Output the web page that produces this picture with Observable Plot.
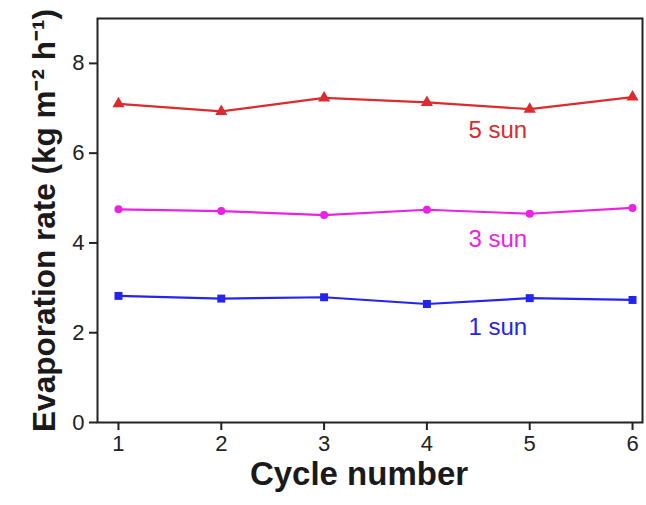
<!DOCTYPE html>
<html>
<head>
<meta charset="utf-8">
<script src="https://cdn.jsdelivr.net/npm/d3@7"></script>
<script src="https://cdn.jsdelivr.net/npm/@observablehq/plot@0.6"></script>
<style>
  html, body { margin: 0; padding: 0; background: #fff; }
  #chart { width: 646px; height: 505px; }
</style>
</head>
<body>
<div id="chart"></div>
<script>
const cycles = [1, 2, 3, 4, 5, 6];
const sun5 = [7.10, 6.93, 7.23, 7.13, 6.98, 7.25];
const sun3 = [4.75, 4.71, 4.62, 4.74, 4.65, 4.78];
const sun1 = [2.82, 2.76, 2.79, 2.64, 2.77, 2.73];
const seriesNames = ["5 sun", "3 sun", "1 sun"];
const seriesColors = ["#dc2a2e", "#e922e6", "#2424ee"];
const seriesSymbols = ["triangle", "circle", "square"];
const labelX = [4.69, 4.69, 4.69];
const labelY = [6.50, 4.07, 2.13];
const yTicks = [0, 2, 4, 6, 8];
const xTitle = "Cycle number";
const yTitle = "Evaporation rate (kg m\u207B\u00B2 h\u207B\u00B9)";

const seriesValues = [sun5, sun3, sun1];
const rows = [];
seriesNames.forEach((name, i) => {
  cycles.forEach((c, j) => rows.push({series: name, cycle: c, value: seriesValues[i][j]}));
});
const labels = seriesNames.map((name, i) => ({series: name, x: labelX[i], y: labelY[i]}));

const font = "'Liberation Sans', Arial, Helvetica, sans-serif";

const marks = [
  Plot.frame({stroke: "#222", strokeWidth: 2}),
  Plot.axisY({ticks: yTicks, tickFormat: d => String(d), tickSize: 8, tickPadding: 5, strokeWidth: 2, stroke: "#222", fill: "#222", fontSize: 22, label: null}),
  Plot.axisX({ticks: cycles, tickFormat: d => String(d), tickSize: 8, tickPadding: 5, strokeWidth: 2, stroke: "#222", fill: "#222", fontSize: 22, label: null})
];
seriesNames.forEach((name, i) => {
  const d = rows.filter(r => r.series === name);
  marks.push(Plot.line(d, {x: "cycle", y: "value", stroke: seriesColors[i], strokeWidth: 2.2}));
  marks.push(Plot.dot(d, {x: "cycle", y: "value", fill: seriesColors[i], symbol: seriesSymbols[i], r: seriesSymbols[i] === "circle" ? 4 : 4.5}));
  marks.push(Plot.text([labels[i]], {x: "x", y: "y", text: "series", fill: seriesColors[i], fontSize: 24}));
});
marks.push(Plot.text([yTitle], {frameAnchor: "left", textAnchor: "middle", dx: -53, rotate: -90, fontSize: 31.5, fontWeight: "bold", fill: "#1a1a1a"}));
marks.push(Plot.text([xTitle], {frameAnchor: "bottom", textAnchor: "middle", dy: 62, dx: -11, fontSize: 33, fontWeight: "bold", fill: "#1a1a1a"}));

const chart = Plot.plot({
  width: 646,
  height: 505,
  marginLeft: 97,
  marginRight: 4,
  marginTop: 18,
  marginBottom: 83,
  style: {fontFamily: font, fontSize: "22px", background: "#fff", overflow: "visible"},
  x: {domain: [0.796, 6.097], axis: null},
  y: {domain: [0, 9], axis: null},
  marks
});
document.getElementById("chart").appendChild(chart);
</script>
</body>
</html>
